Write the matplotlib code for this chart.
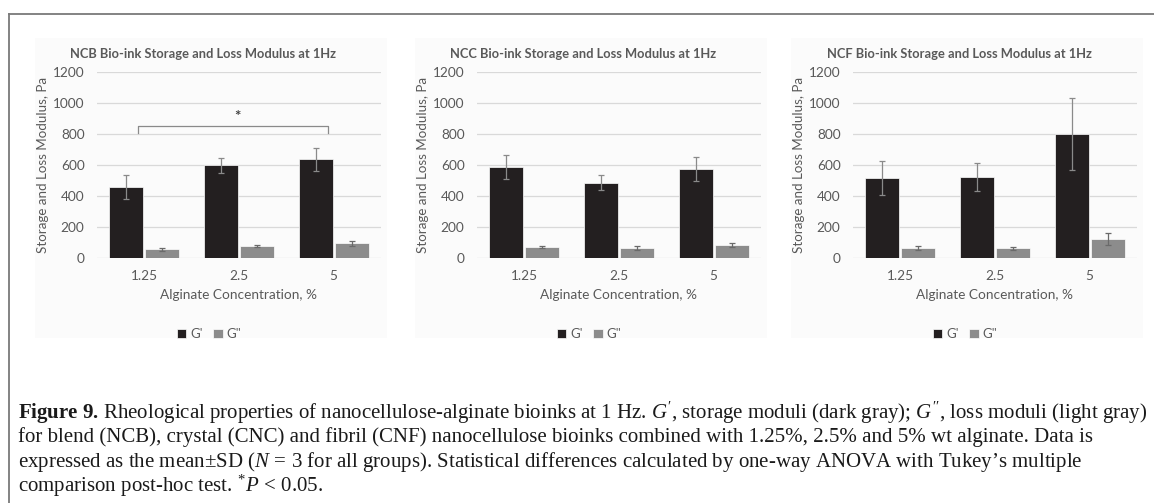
import numpy as np
import matplotlib.pyplot as plt
from matplotlib.patches import Rectangle
from matplotlib.lines import Line2D

plt.rcParams['font.family'] = ['Lato', 'DejaVu Sans']
plt.rcParams['mathtext.fontset'] = 'custom'
plt.rcParams['mathtext.rm'] = 'Liberation Serif'
plt.rcParams['mathtext.it'] = 'Liberation Serif:italic'
plt.rcParams['mathtext.bf'] = 'Liberation Serif:bold'

concentrations = ['1.25', '2.5', '5']
titles = ['NCB Bio-ink Storage and Loss Modulus at 1Hz',
          'NCC Bio-ink Storage and Loss Modulus at 1Hz',
          'NCF Bio-ink Storage and Loss Modulus at 1Hz']

# storage (G') and loss (G'') moduli, Pa, mean and SD
g_storage = [[456, 597, 636], [588, 486, 572], [518, 525, 798]]
g_storage_sd = [[78, 47, 74], [78, 50, 77], [110, 90, 232]]
g_loss = [[56, 77, 95], [71, 64, 86], [63, 63, 125]]
g_loss_sd = [[9, 5, 16], [7, 12, 12], [13, 10, 38]]

yticks = [0, 200, 400, 600, 800, 1000, 1200]

caption_lines = [
    r"$\mathbf{Figure\ 9.}\,$Rheological properties of nanocellulose-alginate bioinks at 1 Hz. $G'$, storage moduli (dark gray); $G''$, loss moduli (light gray)",
    "for blend (NCB), crystal (CNC) and fibril (CNF) nanocellulose bioinks combined with 1.25%, 2.5% and 5% wt alginate. Data is",
    r"expressed as the mean$\pm$SD ($N\,=\,$3 for all groups). Statistical differences calculated by one-way ANOVA with Tukey’s multiple",
    r"comparison post-hoc test. $^{*}P\,<\,$0.05.",
]

W, H = 1154, 503
fig = plt.figure(figsize=(W / 100, H / 100), dpi=100)

text_gray = '#595959'
dark = '#231f20'
light = '#8c8c8c'

# outer frame (top and left edges)
fig.add_artist(Line2D([9 / W, 9 / W], [0, 1 - 14 / H], transform=fig.transFigure,
                      color='#7a7a7a', lw=1.3))
fig.add_artist(Line2D([9 / W, 1], [1 - 14 / H, 1 - 14 / H], transform=fig.transFigure,
                      color='#7a7a7a', lw=1.3))

axes_left = [97, 477, 853]
axes_width = 284
y_top, y_bot = 72, 258

x = np.arange(len(concentrations))
bw = 0.36

for i, left in enumerate(axes_left):
    # faint chart-area background
    fig.add_artist(Rectangle(((left - 62) / W, 1 - 338 / H), (axes_width + 68) / W, 300 / H,
                             transform=fig.transFigure, facecolor='#fbfbfb',
                             edgecolor='none', zorder=0))
    ax = fig.add_axes([left / W, 1 - y_bot / H, axes_width / W, (y_bot - y_top) / H])
    ax.patch.set_alpha(0)
    ax.bar(x - 0.19, g_storage[i], bw, color=dark, edgecolor='white', linewidth=0.5,
           label="G'", zorder=2)
    ax.bar(x + 0.19, g_loss[i], bw, color=light, edgecolor='white', linewidth=0.5,
           label='G"', zorder=2)
    ax.errorbar(x - 0.19, g_storage[i], yerr=g_storage_sd[i], fmt='none',
                ecolor='#8a8a8a', elinewidth=0.9, capsize=2.5, capthick=0.9, zorder=3)
    ax.errorbar(x + 0.19, g_loss[i], yerr=g_loss_sd[i], fmt='none',
                ecolor='#6a6a6a', elinewidth=0.9, capsize=2.5, capthick=0.9, zorder=3)

    ax.set_xlim(-0.5, 2.5)
    ax.set_ylim(0, 1200)
    ax.set_yticks(yticks)
    ax.set_xticks(x)
    ax.set_xticklabels(concentrations)
    ax.yaxis.grid(True, color='#d9d9d9', lw=0.9)
    ax.set_axisbelow(True)
    for s in ax.spines.values():
        s.set_visible(False)
    ax.tick_params(length=0, labelsize=9.8, labelcolor=text_gray, pad=9)
    ax.tick_params(axis='x', pad=9)

    # title and legend are centred on the chart area, not the plot area
    ax.set_title(titles[i], fontsize=9.3, fontweight='bold', color=text_gray, pad=10, x=0.375)
    ax.set_ylabel('Storage and Loss Modulus, Pa', fontsize=9.6, color=text_gray, labelpad=3)
    ax.set_xlabel('Alginate Concentration, %', fontsize=9.8, color=text_gray, labelpad=5)

    ax.legend(loc='center', bbox_to_anchor=(-0.105, -0.41, 1.0, 0.0), ncol=2, frameon=False,
              fontsize=9.5, labelcolor=text_gray, handlelength=0.7, handleheight=0.7,
              handletextpad=0.3, columnspacing=0.8, borderaxespad=0)

    if i == 0:
        # significance bracket between 1.25 % and 5 %
        bx0, bx1, by, bdrop = -0.07, 1.94, 850, 805
        ax.plot([bx0, bx0, bx1, bx1], [bdrop, by, by, bdrop], color='#8a8a8a', lw=0.9,
                zorder=3)
        ax.text((bx0 + bx1) / 2 + 0.05, by + 15, '*', ha='center', va='bottom',
                fontsize=11, fontweight='bold', color='#404040')

# caption, sized so the first line fills the text block width
renderer = fig.canvas.get_renderer()
cap_kw = dict(family='Liberation Serif', color='#1a1a1a', ha='left', va='center')
probe = fig.text(18 / W, 0, caption_lines[0], fontsize=12, **cap_kw)
wpx = probe.get_window_extent(renderer).width
probe.remove()
cap_size = 12 * 1125 / wpx
for k, line in enumerate(caption_lines):
    fig.text(18 / W, 1 - (413 + 24.3 * k) / H, line, fontsize=cap_size, **cap_kw)

fig.savefig('out.png', dpi=100)
